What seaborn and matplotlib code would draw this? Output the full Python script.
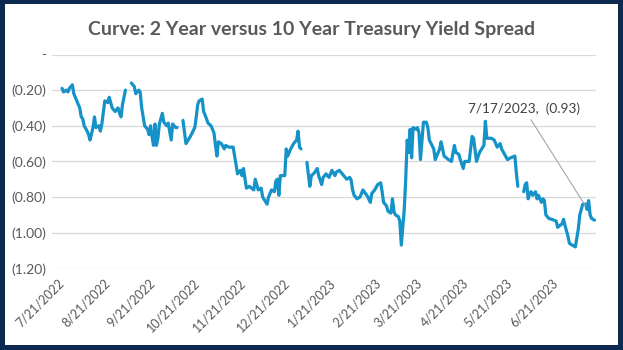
import matplotlib
matplotlib.use("Agg")
import matplotlib.pyplot as plt
import seaborn as sns
import pandas as pd
import numpy as np
from matplotlib.patches import Rectangle

nan = np.nan

dates = [
    "2022-07-21", "2022-07-22", "2022-07-24", "2022-07-25", "2022-07-26", "2022-07-28", "2022-07-29",
    "2022-07-31", "2022-08-02", "2022-08-03", "2022-08-04", "2022-08-05", "2022-08-07", "2022-08-08",
    "2022-08-09", "2022-08-11", "2022-08-12", "2022-08-13", "2022-08-15", "2022-08-16", "2022-08-17",
    "2022-08-19", "2022-08-21", "2022-08-22", "2022-08-24", "2022-08-26", "2022-08-28", "2022-08-29",
    "2022-08-30", "2022-08-31", "2022-09-02", "2022-09-05", "2022-09-06", "2022-09-08", "2022-09-09",
    "2022-09-11", "2022-09-12", "2022-09-13", "2022-09-15", "2022-09-17", "2022-09-18", "2022-09-19",
    "2022-09-20", "2022-09-21", "2022-09-22", "2022-09-23", "2022-09-24", "2022-09-25", "2022-09-27",
    "2022-09-28", "2022-09-30", "2022-10-01", "2022-10-03", "2022-10-04", "2022-10-06", "2022-10-07",
    "2022-10-10", "2022-10-11", "2022-10-13", "2022-10-16", "2022-10-19", "2022-10-20", "2022-10-21",
    "2022-10-22", "2022-10-24", "2022-10-25", "2022-10-26", "2022-10-28", "2022-10-30", "2022-11-01",
    "2022-11-02", "2022-11-03", "2022-11-04", "2022-11-06", "2022-11-08", "2022-11-09", "2022-11-11",
    "2022-11-14", "2022-11-17", "2022-11-19", "2022-11-20", "2022-11-21", "2022-11-23", "2022-11-25",
    "2022-11-28", "2022-11-29", "2022-12-01", "2022-12-03", "2022-12-04", "2022-12-07", "2022-12-08",
    "2022-12-10", "2022-12-12", "2022-12-13", "2022-12-14", "2022-12-15", "2022-12-16", "2022-12-19",
    "2022-12-20", "2022-12-21", "2022-12-23", "2022-12-25", "2022-12-27", "2022-12-28", "2022-12-29",
    "2022-12-30", "2023-01-02", "2023-01-03", "2023-01-05", "2023-01-06", "2023-01-08", "2023-01-10",
    "2023-01-11", "2023-01-13", "2023-01-14", "2023-01-16", "2023-01-18", "2023-01-20", "2023-01-22",
    "2023-01-23", "2023-01-25", "2023-01-27", "2023-01-28", "2023-01-30", "2023-02-01", "2023-02-02",
    "2023-02-03", "2023-02-04", "2023-02-06", "2023-02-08", "2023-02-10", "2023-02-13", "2023-02-15",
    "2023-02-16", "2023-02-18", "2023-02-20", "2023-02-22", "2023-02-23", "2023-02-24", "2023-02-26",
    "2023-02-27", "2023-03-01", "2023-03-02", "2023-03-03", "2023-03-04", "2023-03-06", "2023-03-07",
    "2023-03-08", "2023-03-10", "2023-03-11", "2023-03-12", "2023-03-13", "2023-03-14", "2023-03-15",
    "2023-03-16", "2023-03-18", "2023-03-19", "2023-03-20", "2023-03-21", "2023-03-23", "2023-03-25",
    "2023-03-26", "2023-03-27", "2023-03-30", "2023-03-31", "2023-04-03", "2023-04-04", "2023-04-06",
    "2023-04-09", "2023-04-11", "2023-04-13", "2023-04-14", "2023-04-16", "2023-04-17", "2023-04-19",
    "2023-04-20", "2023-04-23", "2023-04-25", "2023-04-26", "2023-04-28", "2023-04-30", "2023-05-03",
    "2023-05-04", "2023-05-05", "2023-05-08", "2023-05-10", "2023-05-12", "2023-05-14", "2023-05-15",
    "2023-05-17", "2023-05-19", "2023-05-21", "2023-05-24", "2023-05-25", "2023-05-26", "2023-05-29",
    "2023-05-30", "2023-05-31", "2023-06-01", "2023-06-02", "2023-06-03", "2023-06-04", "2023-06-05",
    "2023-06-07", "2023-06-08", "2023-06-09", "2023-06-11", "2023-06-12", "2023-06-13", "2023-06-14",
    "2023-06-16", "2023-06-18", "2023-06-21", "2023-06-22", "2023-06-25", "2023-06-26", "2023-06-27",
    "2023-06-29", "2023-06-30", "2023-07-04", "2023-07-06", "2023-07-07", "2023-07-09", "2023-07-11",
    "2023-07-12", "2023-07-13", "2023-07-14", "2023-07-15", "2023-07-17",
]

spread = [
    -0.19, -0.21, -0.20, -0.21, -0.19, -0.17, -0.22,
    -0.26, -0.30, -0.35, -0.36, -0.40, -0.43, -0.45,
    -0.48, -0.41, -0.35, -0.41, -0.40, -0.43, -0.39,
    -0.26, -0.27, -0.24, -0.30, -0.32, -0.30, -0.33,
    -0.35, -0.28, -0.20, nan, -0.16, -0.18, -0.22,
    -0.20, -0.21, -0.30, -0.40, -0.42, -0.45, -0.40,
    -0.46, -0.51, -0.39, -0.51, -0.47, -0.39, -0.33,
    -0.38, -0.40, -0.385, -0.48, -0.39, -0.41, -0.41,
    nan, -0.37, -0.50, -0.46, -0.41, -0.35, -0.28,
    -0.26, -0.25, -0.32, -0.34, -0.385, -0.40, -0.44,
    -0.51, -0.57, -0.49, -0.50, -0.53, -0.51, -0.52,
    -0.52, -0.67, -0.65, -0.68, -0.64, -0.75, -0.74,
    -0.76, -0.70, -0.76, -0.75, -0.80, -0.84, -0.80,
    -0.76, -0.77, -0.71, -0.70, -0.79, -0.68, -0.68,
    -0.53, -0.57, -0.53, -0.50, -0.48, -0.43, -0.52,
    -0.53, nan, -0.605, -0.74, -0.68, -0.665, -0.64,
    -0.68, -0.73, -0.69, -0.67, -0.69, -0.65, -0.68,
    -0.66, -0.65, -0.67, -0.68, -0.70, -0.69, -0.705,
    -0.76, -0.79, -0.81, -0.80, -0.76, -0.795, -0.83,
    -0.78, -0.76, -0.73, -0.72, -0.77, -0.83, -0.85,
    -0.88, -0.89, -0.81, -0.88, -0.90, -0.91, -0.935,
    -1.07, -0.87, -0.70, -0.48, -0.55, -0.42, -0.58,
    -0.41, -0.42, -0.41, -0.44, -0.59, -0.38, -0.38,
    -0.41, -0.48, -0.53, -0.59, -0.53, -0.49, -0.57,
    -0.59, -0.60, -0.51, -0.55, -0.56, -0.59, -0.64,
    -0.60, -0.60, -0.46, -0.47, -0.60, -0.55, -0.51,
    -0.375, -0.47, -0.47, -0.48, -0.52, -0.50, -0.53,
    -0.56, -0.59, -0.58, -0.57, -0.665, -0.74, nan,
    -0.77, -0.73, -0.72, -0.81, -0.78, -0.77, -0.79,
    -0.77, -0.81, -0.79, -0.83, -0.81, -0.82, -0.90,
    -0.92, -0.925, -0.935, -0.97, -0.95, -0.925, -0.96,
    -1.02, -1.06, -1.08, -0.98, -0.90, -0.84, -0.84,
    -0.87, -0.82, -0.90, -0.92, -0.93,
]

tick_dates = ["2022-07-21", "2022-08-21", "2022-09-21", "2022-10-21", "2022-11-21", "2022-12-21",
              "2023-01-21", "2023-02-21", "2023-03-21", "2023-04-21", "2023-05-21", "2023-06-21"]
tick_labels = ["7/21/2022", "8/21/2022", "9/21/2022", "10/21/2022", "11/21/2022", "12/21/2022",
               "1/21/2023", "2/21/2023", "3/21/2023", "4/21/2023", "5/21/2023", "6/21/2023"]
ytick_values = [0.0, -0.2, -0.4, -0.6, -0.8, -1.0, -1.2]
ytick_labels = ["-", "(0.20)", "(0.40)", "(0.60)", "(0.80)", "(1.00)", "(1.20)"]
title = "Curve: 2 Year versus 10 Year Treasury Yield Spread"
point_label = "7/17/2023,  (0.93)"

sns.set_theme(style="white")
plt.rcParams["font.family"] = ["Lato", "DejaVu Sans"]

df = pd.DataFrame({"date": pd.to_datetime(dates), "spread": spread})
df["segment"] = df["spread"].isna().cumsum()
df_plot = df.dropna()

W, H = 623, 350
fig = plt.figure(figsize=(W / 100, H / 100), dpi=100)
fig.patch.set_facecolor("#0C2A50")
fig.add_artist(Rectangle((5 / W, 5 / H), (W - 10) / W, (H - 9) / H, transform=fig.transFigure,
                         facecolor="white", edgecolor="none", zorder=-5))

ax = fig.add_axes([52 / W, 1 - 268.3 / H, 544 / W, 213.8 / H])
ax.set_facecolor("none")
ax.set_axisbelow(True)

sns.lineplot(data=df_plot, x="date", y="spread", units="segment", estimator=None,
             color="#1592C8", lw=2.3, ax=ax, legend=False)

start = pd.Timestamp(dates[0])
ax.set_xlim(start - pd.Timedelta(days=6.8), start + pd.Timedelta(days=362))
ax.set_ylim(-1.2, 0.0)
ax.set_yticks(ytick_values)
ax.set_yticklabels(ytick_labels)
ax.set_xticks(pd.to_datetime(tick_dates))
ax.set_xticklabels(tick_labels, rotation=45, ha="right", va="center", rotation_mode="anchor")
ax.grid(axis="y", color="#D9D9D9", lw=0.9)
ax.grid(axis="x", visible=False)
for s in ax.spines.values():
    s.set_visible(False)
ax.tick_params(axis="y", length=0, pad=4, labelsize=10, labelcolor="#595959")
ax.tick_params(axis="x", length=0, pad=9, labelsize=9, labelcolor="#595959")
ax.set_xlabel("")
ax.set_ylabel("")

fig.text(0.5, 1 - 30 / H, title, ha="center", va="center", fontsize=14, fontweight="bold",
         color="#595959")

last_x = df_plot["date"].iloc[-1]
last_y = df_plot["spread"].iloc[-1]
ax.annotate(point_label, xy=(last_x, last_y), xytext=(0.868, 0.745), textcoords="axes fraction",
            ha="center", va="center", fontsize=9.8, color="#404040",
            arrowprops=dict(arrowstyle="-", color="#A6A6A6", lw=0.8, shrinkA=1, shrinkB=12))

fig.savefig("out.png", dpi=100, facecolor=fig.get_facecolor())
